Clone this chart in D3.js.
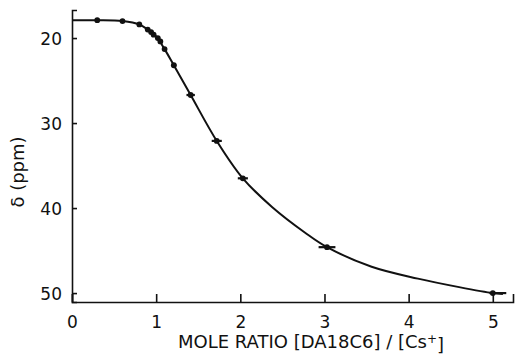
<!DOCTYPE html>
<html>
<head>
<meta charset="utf-8">
<script src="https://cdn.jsdelivr.net/npm/d3@7"></script>
<style>
  body { margin: 0; background: #fff; }
  text { font-family: "DejaVu Sans", sans-serif; fill: #111; }
</style>
</head>
<body>
<div id="chart"></div>
<script>
// measured points
var ratio = [0.30, 0.60, 0.80, 0.90, 0.94, 0.97, 1.02, 1.05, 1.10, 1.21, 1.41, 1.72, 2.03, 3.03, 5.00]
var shift = [17.9, 18.0, 18.4, 19.0, 19.3, 19.6, 20.0, 20.4, 21.3, 23.2, 26.7, 32.1, 36.5, 44.6, 50.0]
// horizontal error bar extent (ratio units, left / right)
var errLo = [0, 0, 0, 0, 0, 0, 0, 0, 0, 0.03, 0.05, 0.06, 0.06, 0.10, 0.04]
var errHi = [0, 0, 0, 0, 0, 0, 0, 0, 0, 0.03, 0.05, 0.06, 0.06, 0.10, 0.16]

// fitted curve
var fitRatio = [0, 0.30, 0.60, 0.80, 0.90, 1.00, 1.10, 1.21, 1.41, 1.72, 2.03, 2.38, 2.77, 3.03, 3.56, 4.11, 4.60, 5.00, 5.12]
var fitShift = [17.9, 17.9, 18.0, 18.4, 19.0, 19.8, 21.3, 23.2, 26.7, 32.1, 36.5, 39.9, 42.9, 44.6, 46.9, 48.3, 49.3, 50.0, 50.1]

var xTicks = [0, 1, 2, 3, 4, 5]
var yTicks = [20, 30, 40, 50]

var margin = {top: 10, right: 2, bottom: 53, left: 72},
    width = 515 - margin.left - margin.right,
    height = 355 - margin.top - margin.bottom;

var svg = d3.select("#chart")
  .append("svg")
    .attr("width", 515)
    .attr("height", 355)
  .append("g")
    .attr("transform", "translate(" + margin.left + "," + margin.top + ")");

var x = d3.scaleLinear().domain([0, 5.24]).range([0, width]);
var y = d3.scaleLinear().domain([16.7, 51.05]).range([0, height]);

// axes
var xAxis = svg.append("g")
  .attr("transform", "translate(0," + height + ")")
  .call(d3.axisBottom(x).tickValues(xTicks).tickSize(-8).tickPadding(14).tickFormat(d3.format("d")));

var yAxis = svg.append("g")
  .call(d3.axisLeft(y).tickValues(yTicks).tickSize(-5).tickPadding(10));

[xAxis, yAxis].forEach(function(a) {
  a.select(".domain").attr("stroke", "#111").attr("stroke-width", 1.6);
  a.selectAll(".tick line").attr("stroke", "#111").attr("stroke-width", 1.6);
  a.selectAll(".tick text").style("font-size", "17px").attr("fill", "#111");
});
yAxis.selectAll(".tick text").attr("dy", "0.36em");

// fitted line
var fit = fitRatio.map(function(d, i) { return [d, fitShift[i]]; });
svg.append("path")
  .datum(fit)
  .attr("fill", "none")
  .attr("stroke", "#111")
  .attr("stroke-width", 2)
  .attr("d", d3.line()
    .x(function(d) { return x(d[0]); })
    .y(function(d) { return y(d[1]); })
    .curve(d3.curveCatmullRom.alpha(0.5)));

var pts = ratio.map(function(d, i) {
  return {r: d, s: shift[i], lo: errLo[i], hi: errHi[i]};
});

svg.selectAll(".err")
  .data(pts.filter(function(d) { return d.lo > 0 || d.hi > 0; }))
  .enter()
  .append("line")
    .attr("class", "err")
    .attr("x1", function(d) { return x(d.r - d.lo); })
    .attr("x2", function(d) { return x(d.r + d.hi); })
    .attr("y1", function(d) { return y(d.s); })
    .attr("y2", function(d) { return y(d.s); })
    .attr("stroke", "#111")
    .attr("stroke-width", 2.2);

svg.selectAll("circle")
  .data(pts)
  .enter()
  .append("circle")
    .attr("cx", function(d) { return x(d.r); })
    .attr("cy", function(d) { return y(d.s); })
    .attr("r", 2.9)
    .attr("fill", "#111");

// axis titles
var xt = svg.append("text")
  .attr("x", 239)
  .attr("y", height + 46)
  .attr("text-anchor", "middle")
  .style("font-size", "18px");
xt.append("tspan").text("MOLE RATIO [DA18C6] / [Cs");
xt.append("tspan").attr("dy", "-0.45em").style("font-size", "12px").text("+");
xt.append("tspan").attr("dy", "0.45em").text("]");

svg.append("text")
  .attr("transform", "translate(" + (-48) + "," + 162 + ") rotate(-90)")
  .attr("text-anchor", "middle")
  .style("font-size", "18px")
  .text("δ (ppm)");
</script>
</body>
</html>
